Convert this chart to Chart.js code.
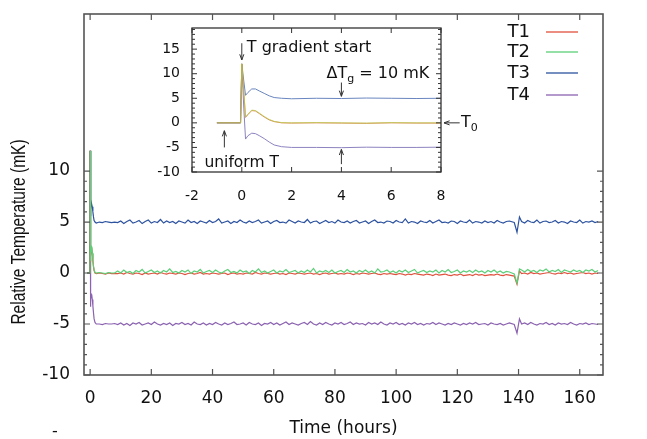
<!DOCTYPE html>
<html><head><meta charset="utf-8">
<script src="https://cdn.jsdelivr.net/npm/chart.js@4.4.1/dist/chart.umd.min.js"></script>
<style>
html,body{margin:0;padding:0;background:#fff;}
#wrap{position:relative;width:647px;height:439px;overflow:hidden;}
#main{position:absolute;left:0;top:0;}
#inset{position:absolute;left:140px;top:22px;}
</style></head><body>
<div id="wrap"><canvas id="main" width="647" height="439"></canvas><canvas id="inset" width="350" height="190"></canvas></div>
<script>
// ---------- data (hours, mK) ----------
const timeHours = [
 -1, -0.5, -0.05, 0, 0.08, 0.15, 0.25, 0.4, 0.55, 0.7, 0.9, 1.1, 1.3, 1.6, 2,
 3, 4, 5, 6, 7, 8,
 9,10,11,12,13,14,15,16,17,18,
 19,20,21,22,23,24,25,26,27,28,
 29,30,31,32,33,34,35,36,37,38,
 39,40,41,42,43,44,45,46,47,48,
 49,50,51,52,53,54,55,56,57,58,
 59,60,61,62,63,64,65,66,67,68,
 69,70,71,72,73,74,75,76,77,78,
 79,80,81,82,83,84,85,86,87,88,
 89,90,91,92,93,94,95,96,97,98,
 99,100,101,102,103,104,105,106,107,108,
 109,110,111,112,113,114,115,116,117,118,
 119,120,121,122,123,124,125,126,127,128,
 129,130,131,132,133,134,135,136,137,138.6,
 139.5, 140.3,
 141,142,143,144,145,146,147,148,149,150,
 151,152,153,154,155,156,157,158,159,160,
 161,162,163,164,165,166
];
const T1 = [
 0, 0, 0, 12, 6.3, 1.1, 1.7, 2.5, 2.4, 1.9, 1.2, 0.6, 0.25, 0, -0.05,
 0, -0.05, -0.1, 0, -0.05, -0.05,
 -0.05,0.0,-0.1,0.05,-0.05,-0.1,0.0,-0.05,-0.15,0.0,
 -0.1,-0.05,0.0,-0.1,0.05,-0.05,-0.1,0.0,-0.05,-0.1,
 0.0,-0.05,-0.15,-0.05,0.0,-0.1,-0.05,0.05,-0.1,-0.05,
 -0.1,0.0,-0.05,-0.1,-0.05,0.0,-0.15,-0.05,0.0,-0.1,
 -0.05,-0.1,0.0,-0.05,-0.1,0.05,-0.05,-0.1,0.0,-0.05,
 -0.1,-0.05,0.0,-0.1,-0.05,-0.15,0.0,-0.05,-0.1,0.0,
 -0.05,-0.1,-0.05,0.0,-0.1,-0.05,-0.15,-0.05,0.0,-0.1,
 -0.05,0.0,-0.1,-0.05,-0.1,0.0,-0.05,-0.15,-0.05,-0.1,
 0.0,-0.05,-0.1,-0.05,0.0,-0.1,-0.15,-0.05,-0.1,-0.05,
 -0.1,-0.15,-0.05,-0.1,-0.2,-0.1,-0.15,-0.05,-0.1,-0.15,
 -0.2,-0.1,-0.15,-0.25,-0.1,-0.2,-0.15,-0.1,-0.2,-0.25,
 -0.15,-0.2,-0.1,-0.25,-0.2,-0.15,-0.25,-0.1,-0.2,-0.15,
 -0.25,-0.2,-0.15,-0.2,-0.1,-0.2,-0.25,-0.15,-0.2,-0.3,
 -1.1, 0.2,
 -0.05,0.0,-0.1,0.05,-0.05,0.0,-0.1,-0.05,0.0,0.05,
 -0.05,-0.1,0.0,-0.05,0.05,-0.05,0.0,-0.1,-0.05,0.0,
 0.05,-0.05,0.0,-0.1,0.0,-0.05
];
const T2 = [
 0, 0, 0, 12, 6.5, 1.2, 1.8, 2.6, 2.5, 2.0, 1.3, 0.7, 0.3, 0.05, 0,
 0.05, 0, -0.05, 0.05, 0, 0,
 0.2,0.0,0.3,0.05,0.15,-0.05,0.25,0.1,0.35,0.0,
 0.15,0.3,0.05,0.2,0.0,0.25,0.1,0.4,0.05,0.15,
 0.0,0.25,0.1,0.3,-0.05,0.2,0.1,0.35,0.0,0.15,
 0.25,0.05,0.3,0.1,0.0,0.2,0.35,0.05,0.15,0.0,
 0.3,0.1,0.2,-0.05,0.25,0.1,0.4,0.05,0.2,0.0,
 0.15,0.3,0.0,0.2,0.1,0.35,0.05,0.15,0.25,0.0,
 0.2,0.05,0.3,0.1,0.45,0.0,0.2,0.1,0.25,0.05,
 0.3,0.0,0.15,0.25,0.05,0.35,0.1,0.2,0.0,0.25,
 0.1,0.3,0.05,0.2,0.0,0.4,0.1,0.15,0.3,0.05,
 0.2,0.0,0.25,0.1,0.3,0.05,0.2,0.35,0.0,0.15,
 0.25,0.05,0.2,0.1,0.3,0.0,0.25,0.1,0.35,0.05,
 0.15,0.3,0.0,0.2,0.1,0.25,0.05,0.3,0.1,0.2,
 0.0,0.25,0.1,0.3,0.05,0.2,0.0,0.15,0.1,-0.1,
 -1.0, 0.4,
 0.3,0.1,0.35,0.15,0.25,0.05,0.3,0.2,0.4,0.1,
 0.25,0.15,0.35,0.05,0.3,0.2,0.1,0.3,0.15,0.25,
 0.05,0.3,0.2,0.35,0.1,0.25
];
const T3 = [
 0, 0, 0, 12, 8.5, 5.6, 6.2, 6.9, 6.9, 6.5, 6.0, 5.5, 5.15, 5.0, 4.9,
 5.0, 4.95, 5.05, 5.0, 4.95, 5.0,
 4.95,5.1,4.85,5.05,5.2,4.9,5.0,5.15,4.85,5.05,
 5.2,4.9,5.05,4.95,5.25,4.9,5.1,4.95,5.05,4.85,
 5.1,5.0,4.9,5.2,4.95,5.05,4.85,5.1,5.0,4.9,
 5.15,4.95,5.05,5.3,4.9,5.0,5.1,4.85,5.05,4.95,
 5.2,5.0,4.9,5.1,4.95,5.05,5.2,4.9,5.0,5.1,
 4.85,5.05,5.15,4.95,5.0,4.9,5.2,5.05,4.9,5.1,
 5.0,4.95,5.25,4.9,5.05,5.1,4.85,5.0,5.15,4.95,
 5.05,4.9,5.2,5.0,4.95,5.1,4.9,5.05,5.15,4.9,
 5.0,5.1,4.85,5.05,5.2,4.95,5.0,4.9,5.1,5.05,
 4.9,5.15,5.0,4.95,5.3,4.9,5.05,5.0,4.85,5.1,
 5.0,4.95,5.15,4.9,5.05,5.2,4.95,5.0,4.9,5.1,
 5.05,4.85,5.1,5.0,4.95,5.2,4.9,5.05,5.0,4.9,
 5.1,4.95,5.05,4.9,5.15,5.0,4.9,5.05,5.1,4.95,
 4.0, 5.5,
 5.05,4.9,5.15,5.0,4.95,5.2,4.9,5.05,5.1,4.95,
 5.0,5.15,4.9,5.05,5.0,4.85,5.1,5.0,4.95,5.2,
 4.9,5.05,5.0,5.1,4.95,5.05
];
const T4 = [
 0, 0, 0, 12, 3, -3.3, -2.6, -2.1, -2.2, -2.6, -3.2, -3.9, -4.5, -4.85, -5.0,
 -5.0, -5.05, -4.95, -5.0, -5.0, -4.95,
 -5.05,-4.9,-5.1,-4.95,-5.15,-4.9,-5.0,-4.85,-5.1,-5.0,
 -4.9,-5.05,-4.8,-5.0,-5.1,-4.95,-5.05,-4.9,-5.15,-4.95,
 -5.0,-4.85,-5.05,-4.95,-5.1,-4.8,-5.0,-5.05,-4.9,-5.1,
 -4.95,-5.05,-4.85,-5.0,-5.1,-4.9,-5.05,-4.95,-4.8,-5.05,
 -5.0,-4.9,-5.1,-4.85,-5.0,-5.05,-4.9,-5.15,-4.95,-5.0,
 -4.85,-5.05,-4.9,-5.1,-4.95,-4.8,-5.05,-4.9,-5.0,-5.1,
 -4.95,-4.85,-5.05,-4.75,-5.0,-5.1,-4.9,-5.05,-4.85,-5.0,
 -5.1,-4.9,-5.0,-4.85,-5.05,-4.95,-4.8,-5.05,-4.9,-5.0,
 -4.95,-5.1,-4.85,-5.0,-4.9,-5.05,-4.8,-5.0,-5.1,-4.9,
 -5.0,-4.85,-5.05,-4.95,-5.1,-4.9,-5.0,-4.85,-5.05,-4.95,
 -5.1,-4.95,-5.0,-4.85,-5.05,-4.9,-5.0,-5.1,-4.95,-5.05,
 -4.9,-5.0,-5.1,-4.95,-5.05,-4.9,-5.0,-4.85,-5.05,-5.0,
 -4.95,-5.1,-4.9,-5.0,-5.05,-4.95,-5.1,-5.0,-4.9,-5.05,
 -5.9, -4.5,
 -5.0,-4.9,-5.05,-4.85,-5.0,-5.1,-4.95,-5.0,-4.85,-5.05,
 -4.95,-5.1,-4.9,-5.0,-4.95,-5.05,-4.85,-5.0,-5.1,-4.95,
 -5.0,-4.9,-5.05,-4.95,-5.0,-5.05
];
const seriesNames = ['T1', 'T2', 'T3', 'T4'];
const seriesValues = [T1, T2, T3, T4];
const seriesColors = ['#e0503c', '#5ccf78', '#2c52a0', '#8a62b0'];
const insetColors = ['rgba(225,120,60,0.85)', 'rgba(175,205,70,0.7)', '#6a86c0', '#8c84c0'];
const seriesOrder = [1, 0, 2, 3];

const mainXTicks = [0, 20, 40, 60, 80, 100, 120, 140, 160];
const mainYTicks = [-10, -5, 0, 5, 10];
const insetXTicks = [-2, 0, 2, 4, 6, 8];
const insetYTicks = [-10, -5, 0, 5, 10, 15];

// inset annotations in data units: [x1, y1, x2, y2] head at (x2, y2)
const insetArrows = [
  [0, 16.2, 0, 12.8],
  [4, 8.2, 4, 5.4],
  [4, -8.4, 4, -5.4],
  [-0.7, -5.0, -0.7, -1.6],
  [8.75, 0, 8.12, 0]
];

const FONT = 'DejaVu Sans';
Chart.defaults.font.family = FONT;
Chart.defaults.color = '#111';

function tickObjs(vals) { return vals.map(v => ({ value: v })); }
function noPad(s) { s.paddingTop = 0; s.paddingBottom = 0; s.paddingLeft = 0; s.paddingRight = 0; }

function makeDatasets(colors, width) {
  return seriesNames.map((name, i) => ({
    label: name,
    data: timeHours.map((t, k) => ({ x: t, y: seriesValues[i][k] })),
    borderColor: colors[i],
    borderWidth: width,
    pointRadius: 0,
    tension: 0,
    fill: false,
    order: seriesOrder[i]
  }));
}

function drawFrameTicks(chart, o) {
  const ctx = chart.ctx, a = chart.chartArea, xs = chart.scales.x, ys = chart.scales.y;
  ctx.save();
  ctx.strokeStyle = o.color;
  ctx.lineWidth = o.tickWidth;
  ctx.beginPath();
  for (const v of o.xMajor) {
    const p = xs.getPixelForValue(v);
    ctx.moveTo(p, a.bottom); ctx.lineTo(p, a.bottom - o.major);
    ctx.moveTo(p, a.top); ctx.lineTo(p, a.top + o.major);
  }
  for (let v = o.yFrom; v <= o.yTo + 1e-9; v += o.yMinorStep) {
    const p = ys.getPixelForValue(v);
    const isMajor = Math.abs(v / o.yMajorStep - Math.round(v / o.yMajorStep)) < 1e-6;
    const len = isMajor ? o.major : o.minor;
    ctx.moveTo(a.left, p); ctx.lineTo(a.left + len, p);
    ctx.moveTo(a.right, p); ctx.lineTo(a.right - len, p);
  }
  ctx.stroke();
  ctx.lineWidth = o.frameWidth;
  ctx.strokeRect(a.left, a.top, a.right - a.left, a.bottom - a.top);
  ctx.restore();
}

const mainDecor = {
  id: 'mainDecor',
  afterDraw(chart) {
    drawFrameTicks(chart, { color: '#555', tickWidth: 1.2, frameWidth: 1.6, major: 6, minor: 3,
      xMajor: mainXTicks, yFrom: -10, yTo: 10, yMinorStep: 1, yMajorStep: 5 });
    const ctx = chart.ctx;
    ctx.save();
    // y-axis title (reference lettering is horizontally widened)
    ctx.fillStyle = '#111';
    ctx.font = '15.5px "Liberation Sans"';
    ctx.textAlign = 'center'; ctx.textBaseline = 'middle';
    ctx.translate(20, 232); ctx.rotate(-Math.PI / 2); ctx.scale(1, 1.25);
    ctx.fillText('Relative Temperature (mK)', 0, 0);
    ctx.restore();
    // legend
    ctx.save();
    ctx.font = '18px "' + FONT + '"';
    ctx.textAlign = 'right'; ctx.textBaseline = 'middle';
    const rows = [32, 52, 73, 95];
    seriesNames.forEach((n, i) => {
      ctx.fillStyle = '#111';
      ctx.fillText(n, 530, rows[i]);
      ctx.strokeStyle = seriesColors[i];
      ctx.lineWidth = 1.3;
      ctx.beginPath(); ctx.moveTo(546, rows[i]); ctx.lineTo(578, rows[i]); ctx.stroke();
    });
    ctx.fillStyle = '#111';
    ctx.font = '16px "' + FONT + '"';
    ctx.textAlign = 'center';
    ctx.fillText('-', 55, 432);
    ctx.restore();
  }
};

function arrow(ctx, x1, y1, x2, y2, head) {
  ctx.beginPath(); ctx.moveTo(x1, y1); ctx.lineTo(x2, y2); ctx.stroke();
  const ang = Math.atan2(y2 - y1, x2 - x1);
  ctx.beginPath();
  ctx.moveTo(x2 - head * Math.cos(ang - 0.35), y2 - head * Math.sin(ang - 0.35));
  ctx.lineTo(x2, y2);
  ctx.lineTo(x2 - head * Math.cos(ang + 0.35), y2 - head * Math.sin(ang + 0.35));
  ctx.stroke();
}

const insetDecor = {
  id: 'insetDecor',
  beforeDraw(chart) {
    const ctx = chart.ctx, a = chart.chartArea;
    ctx.save(); ctx.fillStyle = '#fff';
    ctx.fillRect(a.left, a.top, a.right - a.left, a.bottom - a.top);
    ctx.restore();
  },
  afterDraw(chart) {
    drawFrameTicks(chart, { color: '#333', tickWidth: 1, frameWidth: 1.3, major: 5, minor: 3,
      xMajor: insetXTicks, yFrom: -10, yTo: 19, yMinorStep: 1, yMajorStep: 5 });
    const ctx = chart.ctx, xs = chart.scales.x, ys = chart.scales.y;
    const X = v => xs.getPixelForValue(v), Y = v => ys.getPixelForValue(v);
    ctx.save();
    ctx.strokeStyle = '#333'; ctx.lineWidth = 1;
    for (const [x1, y1, x2, y2] of insetArrows) arrow(ctx, X(x1), Y(y1), X(x2), Y(y2), 6);
    ctx.fillStyle = '#111';
    ctx.textBaseline = 'middle'; ctx.textAlign = 'left';
    ctx.font = '16px "' + FONT + '"';
    ctx.fillText('T gradient start', X(0.2), Y(15.2));
    ctx.font = '15.5px "' + FONT + '"';
    ctx.fillText('uniform T', X(-1.5), Y(-8.1));
    // ΔTg = 10 mK
    ctx.font = '16px "' + FONT + '"';
    let x = X(3.4); const yb = Y(10);
    ctx.fillText('\u0394T', x, yb); x += ctx.measureText('\u0394T').width;
    ctx.font = '11px "' + FONT + '"';
    ctx.fillText('g', x, yb + 5); x += ctx.measureText('g').width;
    ctx.font = '16px "' + FONT + '"';
    ctx.fillText(' = 10 mK', x, yb);
    // T0
    let x0 = X(8.8);
    ctx.fillText('T', x0, Y(0)); x0 += ctx.measureText('T').width;
    ctx.font = '11px "' + FONT + '"';
    ctx.fillText('0', x0, Y(0) + 5);
    ctx.restore();
  }
};

new Chart(document.getElementById('main'), {
  type: 'line',
  data: { datasets: makeDatasets(seriesColors, 1.2) },
  options: {
    responsive: false, animation: false,
    layout: { padding: { left: 0, top: 14, right: 44, bottom: 0 } },
    plugins: { legend: { display: false }, tooltip: { enabled: false } },
    scales: {
      x: {
        type: 'linear', min: -2, max: 167.6,
        afterBuildTicks: s => { s.ticks = tickObjs(mainXTicks); },
        afterFit: s => { s.height = 64; noPad(s); },
        grid: { display: false, drawTicks: false }, border: { display: false },
        ticks: { padding: 13, font: { size: 17 }, maxRotation: 0, autoSkip: false },
        title: { display: true, text: 'Time (hours)', font: { size: 17 }, padding: { top: 0, bottom: 0 } }
      },
      y: {
        type: 'linear', min: -10, max: 25.4,
        afterBuildTicks: s => { s.ticks = tickObjs(mainYTicks); },
        afterFit: s => { s.width = 84; noPad(s); },
        grid: { display: false, drawTicks: false }, border: { display: false },
        ticks: { padding: 14, font: { size: 17 }, autoSkip: false }
      }
    }
  },
  plugins: [mainDecor]
});

new Chart(document.getElementById('inset'), {
  type: 'line',
  data: { datasets: makeDatasets(insetColors, 1) },
  options: {
    responsive: false, animation: false,
    layout: { padding: { left: 0, top: 6, right: 49, bottom: 0 } },
    plugins: { legend: { display: false }, tooltip: { enabled: false } },
    scales: {
      x: {
        type: 'linear', min: -2, max: 8,
        afterBuildTicks: s => { s.ticks = tickObjs(insetXTicks); },
        afterFit: s => { s.height = 40; noPad(s); },
        grid: { display: false, drawTicks: false }, border: { display: false },
        ticks: { padding: 16, font: { size: 14 }, maxRotation: 0, autoSkip: false }
      },
      y: {
        type: 'linear', min: -10, max: 19.3,
        afterBuildTicks: s => { s.ticks = tickObjs(insetYTicks); },
        afterFit: s => { s.width = 52; noPad(s); },
        grid: { display: false, drawTicks: false }, border: { display: false },
        ticks: { padding: 12, font: { size: 14 }, autoSkip: false }
      }
    }
  },
  plugins: [insetDecor]
});
</script>
</body></html>
